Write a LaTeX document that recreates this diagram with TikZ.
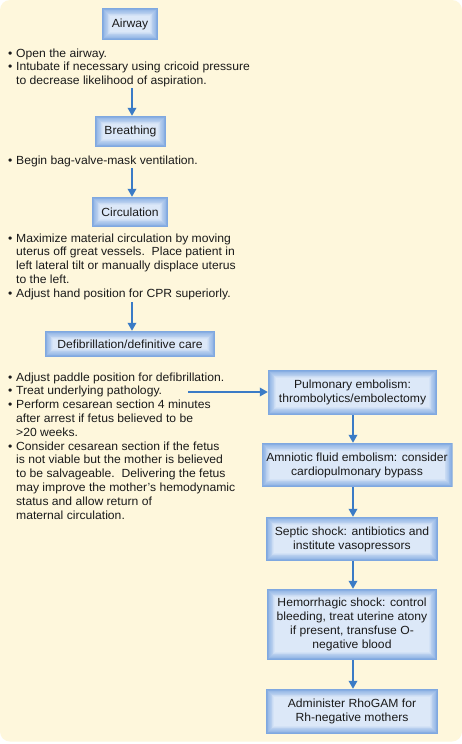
\documentclass[tikz,border=0pt]{standalone}
\usepackage{fontspec}
\setmainfont[FakeStretch=1.03]{Liberation Sans}
\usetikzlibrary{arrows.meta,calc}
\definecolor{cream}{HTML}{FEF7DC}
\definecolor{edgeblue}{HTML}{7FA8E0}
\definecolor{coreblue}{HTML}{DCE8F8}
\definecolor{arrowblue}{HTML}{3A7BC6}
\definecolor{ink}{HTML}{1A1A1A}
\newcommand\bxfont{\fontsize{11.8}{14}\selectfont}
\newcommand\txfont{\fontsize{11.8}{13.8}\selectfont}
\tikzset{
  glowbox/.style={rectangle, inner sep=0pt, align=center, text=ink, font=\bxfont,
    path picture={
      \foreach \i in {0,...,10}{
        \pgfmathsetmacro\p{\i*10}
        \fill[coreblue!\p!edgeblue]
          ($(path picture bounding box.south west)+(\i*0.8pt,\i*0.8pt)$)
          rectangle
          ($(path picture bounding box.north east)-(\i*0.8pt,\i*0.8pt)$);
      }}},
  bullets/.style={inner sep=0pt, anchor=base west, text=ink, font=\txfont},
  arr/.style={draw=arrowblue, line width=1.8pt, -{Triangle[width=8.5pt,length=8pt]}},
}
\begin{document}
\begin{tikzpicture}[x=1pt,y=-1pt]
\useasboundingbox (0,0) rectangle (462,744);
\fill[white] (0,0) rectangle (462,744);
\fill[cream, rounded corners=10pt] (0,0) rectangle (462,741.5);

% left column boxes
\node[glowbox, minimum width=56pt, minimum height=32pt] (airway) at (130,24) {Airway};
\node[glowbox, minimum width=71pt, minimum height=31pt] (breathing) at (130.5,131.5) {Breathing};
\node[glowbox, minimum width=76pt, minimum height=30pt] (circulation) at (130,212) {Circulation};
\node[glowbox, minimum width=170pt, minimum height=26pt] (defib) at (130,344) {Defibrillation/definitive care};

% left column texts
\node[bullets] (airtxt) at (8,57) {\begin{tabular}[t]{@{}l@{\hspace{3.7pt}}l@{}}
\textbullet & Open the airway.\\
\textbullet & Intubate if necessary using cricoid pressure\\
 & to decrease likelihood of aspiration.
\end{tabular}};
\node[bullets] (breathtxt) at (8,164) {\begin{tabular}[t]{@{}l@{\hspace{3.7pt}}l@{}}
\textbullet & Begin bag-valve-mask ventilation.
\end{tabular}};
\node[bullets] (circtxt) at (8,242) {\begin{tabular}[t]{@{}l@{\hspace{3.7pt}}l@{}}
\textbullet & Maximize material circulation by moving\\
 & uterus off great vessels.\ \ Place patient in\\
 & left lateral tilt or manually displace uterus\\
 & to the left.\\
\textbullet & Adjust hand position for CPR superiorly.
\end{tabular}};
\node[bullets] (defibtxt) at (8,381) {\begin{tabular}[t]{@{}l@{\hspace{3.7pt}}l@{}}
\textbullet & Adjust paddle position for defibrillation.\\
\textbullet & Treat underlying pathology.\\
\textbullet & Perform cesarean section 4 minutes\\
 & after arrest if fetus believed to be\\
 & >20 weeks.\\
\textbullet & Consider cesarean section if the fetus\\
 & is not viable but the mother is believed\\
 & to be salvageable.\ \ Delivering the fetus\\
 & may improve the mother’s hemodynamic\\
 & status and allow return of\\
 & maternal circulation.
\end{tabular}};

% right column boxes
\node[glowbox, minimum width=169pt, minimum height=45pt] (pulm) at (352.5,392.5) {Pulmonary embolism:\\thrombolytics/embolectomy};
\node[glowbox, minimum width=191pt, minimum height=44pt] (amn) at (357,465) {Amniotic fluid embolism: consider\\cardiopulmonary bypass};
\node[glowbox, minimum width=172pt, minimum height=44pt] (septic) at (352,539) {Septic shock: antibiotics and\\institute vasopressors};
\node[glowbox, minimum width=170pt, minimum height=71pt] (hemo) at (352,624.5) {Hemorrhagic shock: control\\bleeding, treat uterine atony\\if present, transfuse O-\\negative blood};
\node[glowbox, minimum width=172pt, minimum height=45pt] (rho) at (352,711.5) {Administer RhoGAM for\\Rh-negative mothers};

% connectors
\coordinate (a1) at (132,88);
\coordinate (a2) at (132,168);
\coordinate (a3) at (132,302);
\coordinate (hs) at (188,392);
\coordinate (rx) at (353,0);
\draw[arr] (a1) -- (a1 |- breathing.north);
\draw[arr] (a2) -- (a2 |- circulation.north);
\draw[arr] (a3) -- (a3 |- defib.north);
\draw[arr] (hs) -- (hs -| pulm.west);
\draw[arr] (rx |- pulm.south) -- (rx |- amn.north);
\draw[arr] (rx |- amn.south) -- (rx |- septic.north);
\draw[arr] (rx |- septic.south) -- (rx |- hemo.north);
\draw[arr] (rx |- hemo.south) -- (rx |- rho.north);
\end{tikzpicture}
\end{document}
